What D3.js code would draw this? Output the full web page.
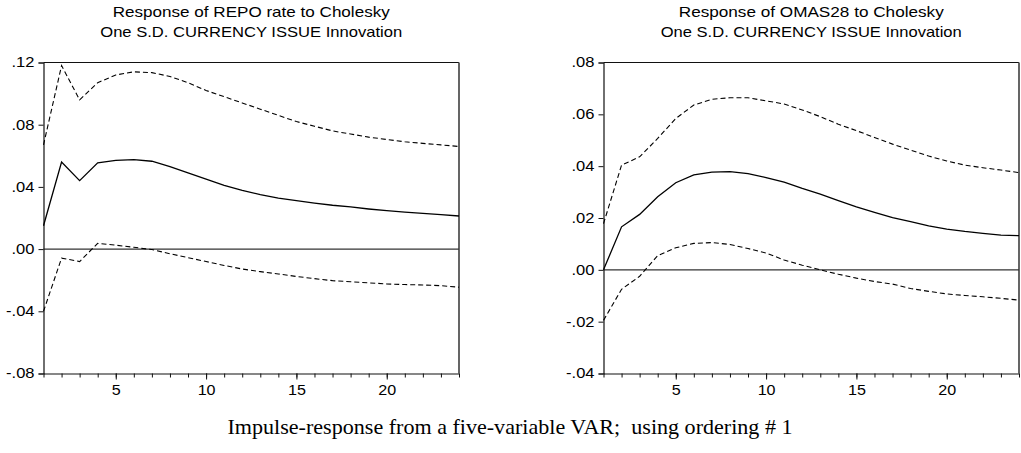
<!DOCTYPE html>
<html>
<head>
<meta charset="utf-8">
<script src="https://cdn.jsdelivr.net/npm/d3@7"></script>
<style>
  html, body { margin: 0; padding: 0; background: #fff; }
  svg { display: block; }
  text { font-family: "Liberation Sans", Arial, sans-serif; fill: #000; }
  .caption { font-family: "Liberation Serif", "Times New Roman", serif; white-space: pre; }
</style>
</head>
<body>
<svg id="chart" width="1021" height="453"></svg>
<script>
// Forecast horizon (periods)
const periods = d3.range(1, 25);

// Response of REPO rate to a one S.D. CURRENCY ISSUE shock
const repoResponse = [0.015, 0.056, 0.044, 0.0555, 0.057, 0.0575, 0.0565, 0.053, 0.049, 0.045,
  0.041, 0.0378, 0.035, 0.0328, 0.0312, 0.0296, 0.0282, 0.0271, 0.0258, 0.0247,
  0.0238, 0.023, 0.0222, 0.0213];
const repoUpper = [0.067, 0.118, 0.096, 0.107, 0.112, 0.114, 0.1135, 0.111, 0.107, 0.102,
  0.098, 0.094, 0.090, 0.086, 0.082, 0.079, 0.076, 0.074, 0.072, 0.0705,
  0.069, 0.068, 0.067, 0.066];
const repoLower = [-0.040, -0.0058, -0.008, 0.0037, 0.0025, 0.0012, -0.0003, -0.003, -0.0055, -0.008,
  -0.0105, -0.0128, -0.0145, -0.016, -0.0176, -0.019, -0.0203, -0.021, -0.0217, -0.0224,
  -0.0228, -0.0231, -0.0235, -0.0245];

// Response of OMAS28 to a one S.D. CURRENCY ISSUE shock
const omasResponse = [0.0, 0.0166, 0.0214, 0.0282, 0.0336, 0.0366, 0.0377, 0.0379, 0.0371, 0.0356,
  0.0338, 0.0314, 0.0292, 0.0267, 0.0243, 0.0222, 0.0201, 0.0186, 0.017, 0.0157,
  0.0148, 0.0141, 0.0134, 0.0132];
const omasUpper = [0.0178, 0.0404, 0.0436, 0.0507, 0.0584, 0.0636, 0.0658, 0.0664, 0.0664, 0.0652,
  0.064, 0.0617, 0.0591, 0.0562, 0.0537, 0.0511, 0.0485, 0.0462, 0.0439, 0.042,
  0.0404, 0.0394, 0.0385, 0.0375];
const omasLower = [-0.0195, -0.0075, -0.0025, 0.0055, 0.0085, 0.0102, 0.0105, 0.0098, 0.0082, 0.0065,
  0.0038, 0.0018, 0.0, -0.0017, -0.0032, -0.0045, -0.0055, -0.0072, -0.0083, -0.0093,
  -0.0099, -0.0104, -0.011, -0.0117];

// Axis settings
const repoTicks = [-0.08, -0.04, 0.00, 0.04, 0.08, 0.12];
const omasTicks = [-0.04, -0.02, 0.00, 0.02, 0.04, 0.06, 0.08];
const xLabelTicks = [5, 10, 15, 20];

const repoTitle = ["Response of REPO rate to Cholesky", "One S.D. CURRENCY ISSUE Innovation"];
const omasTitle = ["Response of OMAS28 to Cholesky", "One S.D. CURRENCY ISSUE Innovation"];
const captionText = "Impulse-response from a five-variable VAR;  using ordering # 1";

const svg = d3.select("#chart");
// ".12", "-.04" style labels
const fmt = v => d3.format(".2f")(v).replace("\u2212", "-").replace("0.", ".");

// widen a text node horizontally by a factor
function stretch(sel, factor) {
  sel.each(function () {
    const w = this.getComputedTextLength();
    d3.select(this).attr("textLength", w * factor).attr("lengthAdjust", "spacingAndGlyphs");
  });
}

function panel(cfg) {
  const { left, right, top, bottom, domain, ticks, resp, upper, lower, title, titleWidths } = cfg;
  const x = d3.scaleLinear().domain([1, 24]).range([left, right]);
  const y = d3.scaleLinear().domain(domain).range([bottom, top]);
  const g = svg.append("g");

  // frame: top and right edges
  g.append("line").attr("x1", left).attr("x2", right).attr("y1", top).attr("y2", top)
    .attr("stroke", "#111").attr("stroke-width", 1.2);
  g.append("line").attr("x1", right).attr("x2", right).attr("y1", top).attr("y2", bottom)
    .attr("stroke", "#555").attr("stroke-width", 1.8);

  // zero line
  g.append("line").attr("x1", left).attr("x2", right).attr("y1", y(0)).attr("y2", y(0))
    .attr("stroke", "#333").attr("stroke-width", 1.1);

  // y axis
  const yAxis = g.append("g").attr("transform", `translate(${left},0)`)
    .call(d3.axisLeft(y).tickValues(ticks).tickFormat(fmt).tickSize(5).tickPadding(4));
  yAxis.select(".domain").attr("stroke", "#111").attr("stroke-width", 1.2);
  yAxis.selectAll(".tick line").attr("stroke", "#111");
  yAxis.selectAll(".tick text").attr("font-size", 14).attr("font-family", "Liberation Sans, Arial, sans-serif")
    .call(stretch, 1.18);

  // x axis: minor ticks every period, longer labelled ticks every five
  const xAxis = g.append("g").attr("transform", `translate(0,${bottom})`)
    .call(d3.axisBottom(x).tickValues(periods).tickFormat("").tickSize(4).tickSizeOuter(0));
  xAxis.select(".domain").attr("stroke", "#111").attr("stroke-width", 1.2);
  xAxis.selectAll(".tick line").attr("stroke", "#111");
  const xMajor = g.append("g").attr("transform", `translate(0,${bottom})`)
    .call(d3.axisBottom(x).tickValues(xLabelTicks).tickFormat(d3.format("d")).tickSize(6).tickPadding(6));
  xMajor.select(".domain").remove();
  xMajor.selectAll(".tick line").attr("stroke", "#111");
  xMajor.selectAll(".tick text").attr("font-size", 14).attr("font-family", "Liberation Sans, Arial, sans-serif")
    .call(stretch, 1.15);

  const line = d3.line().x((d, i) => x(periods[i])).y(d => y(d));
  g.append("path").datum(upper).attr("d", line).attr("fill", "none")
    .attr("stroke", "#000").attr("stroke-width", 1.1).attr("stroke-dasharray", "5,3");
  g.append("path").datum(lower).attr("d", line).attr("fill", "none")
    .attr("stroke", "#000").attr("stroke-width", 1.1).attr("stroke-dasharray", "5,3");
  g.append("path").datum(resp).attr("d", line).attr("fill", "none")
    .attr("stroke", "#000").attr("stroke-width", 1.3);

  // title
  const cx = (left + right) / 2;
  title.forEach((t, i) => {
    g.append("text").attr("x", cx).attr("y", 17 + i * 19.5)
      .attr("text-anchor", "middle").attr("font-size", 15)
      .attr("textLength", titleWidths[i]).attr("lengthAdjust", "spacingAndGlyphs")
      .text(t);
  });
}

panel({
  left: 43.5, right: 459, top: 62.5, bottom: 373.5,
  domain: [-0.08, 0.12], ticks: repoTicks,
  resp: repoResponse, upper: repoUpper, lower: repoLower,
  title: repoTitle, titleWidths: [277, 302]
});

panel({
  left: 603.5, right: 1019, top: 62.5, bottom: 373.5,
  domain: [-0.04, 0.08], ticks: omasTicks,
  resp: omasResponse, upper: omasUpper, lower: omasLower,
  title: omasTitle, titleWidths: [265, 301]
});

svg.append("text").attr("class", "caption")
  .attr("x", 510).attr("y", 434).attr("text-anchor", "middle")
  .attr("font-size", 21)
  .attr("textLength", 565).attr("lengthAdjust", "spacingAndGlyphs")
  .text(captionText);
</script>
</body>
</html>
